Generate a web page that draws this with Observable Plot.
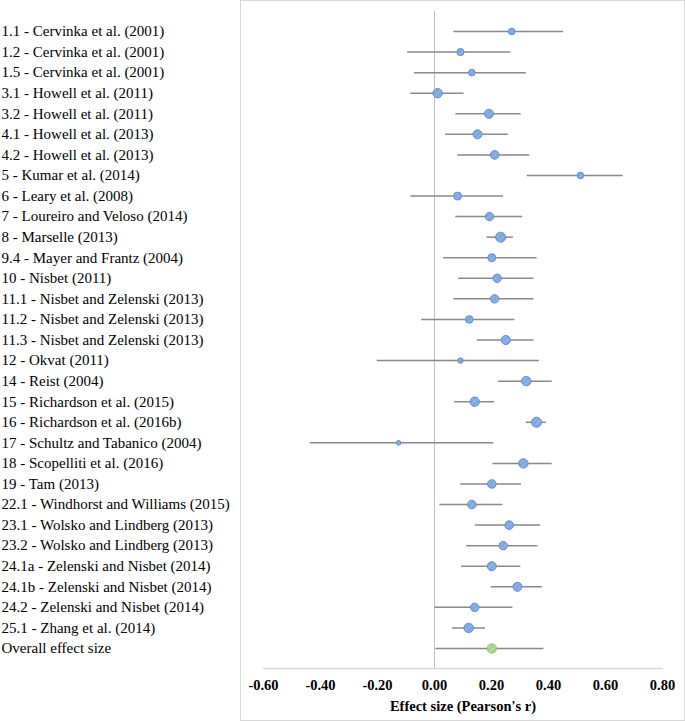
<!DOCTYPE html>
<html>
<head>
<meta charset="utf-8">
<script src="https://cdn.jsdelivr.net/npm/d3@7"></script>
<script src="https://cdn.jsdelivr.net/npm/@observablehq/plot@0.6"></script>
<style>
  html, body { margin: 0; padding: 0; background: #fff; }
  #wrap { position: relative; width: 685px; height: 721px; }
  #box { position: absolute; left: 240px; top: 0px; width: 443px; height: 719px; border: 1px solid #d9d9d9; pointer-events: none; }
  #chart { position: absolute; left: 0; top: 0; }
  #chart svg text { font-family: "Liberation Serif", "Times New Roman", serif; }
</style>
</head>
<body>
<div id="wrap"><div id="box"></div><div id="chart"></div></div>
<script>
const labels = [
  "1.1 - Cervinka et al. (2001)",
  "1.2 - Cervinka et al. (2001)",
  "1.5 - Cervinka et al. (2001)",
  "3.1 - Howell et al. (2011)",
  "3.2 - Howell et al. (2011)",
  "4.1 - Howell et al. (2013)",
  "4.2 - Howell et al. (2013)",
  "5 - Kumar et al. (2014)",
  "6 - Leary et al. (2008)",
  "7 - Loureiro and Veloso (2014)",
  "8 - Marselle (2013)",
  "9.4 - Mayer and Frantz (2004)",
  "10 - Nisbet (2011)",
  "11.1 - Nisbet and Zelenski (2013)",
  "11.2 - Nisbet and Zelenski (2013)",
  "11.3 - Nisbet and Zelenski (2013)",
  "12 - Okvat (2011)",
  "14 - Reist (2004)",
  "15 - Richardson et al. (2015)",
  "16 - Richardson et al. (2016b)",
  "17 - Schultz and Tabanico (2004)",
  "18 - Scopelliti et al. (2016)",
  "19 - Tam (2013)",
  "22.1 - Windhorst and Williams (2015)",
  "23.1 - Wolsko and Lindberg (2013)",
  "23.2 - Wolsko and Lindberg (2013)",
  "24.1a - Zelenski and Nisbet (2014)",
  "24.1b - Zelenski and Nisbet (2014)",
  "24.2 - Zelenski and Nisbet (2014)",
  "25.1 - Zhang et al. (2014)",
  "Overall effect size"
];
const estimates = [0.271, 0.091, 0.131, 0.011, 0.191, 0.151, 0.211, 0.512, 0.081, 0.193, 0.232, 0.201, 0.220, 0.211, 0.122, 0.250, 0.091, 0.322, 0.141, 0.358, -0.126, 0.312, 0.201, 0.131, 0.262, 0.241, 0.201, 0.291, 0.141, 0.120, 0.201];
const lower = [0.068, -0.094, -0.070, -0.083, 0.075, 0.039, 0.082, 0.325, -0.083, 0.075, 0.184, 0.032, 0.085, 0.068, -0.045, 0.150, -0.201, 0.225, 0.070, 0.322, -0.436, 0.205, 0.092, 0.019, 0.143, 0.113, 0.095, 0.199, 0.002, 0.063, 0.005];
const upper = [0.453, 0.268, 0.322, 0.104, 0.304, 0.259, 0.334, 0.662, 0.242, 0.309, 0.277, 0.360, 0.349, 0.349, 0.282, 0.349, 0.368, 0.413, 0.211, 0.393, 0.208, 0.413, 0.305, 0.240, 0.373, 0.363, 0.303, 0.378, 0.275, 0.179, 0.384];
const weights = [3.3, 3.6, 3.3, 4.7, 4.5, 4.5, 4.3, 3.3, 4.0, 4.2, 5.0, 4.0, 4.2, 4.2, 3.8, 4.5, 2.7, 4.7, 4.7, 5.0, 2.3, 4.7, 4.3, 4.3, 4.3, 4.2, 4.5, 4.5, 4.2, 4.7, 4.7];
const overallCI = [0.172, 0.232];
const xTicks = [-0.6, -0.4, -0.2, 0, 0.2, 0.4, 0.6, 0.8];
const xTitle = "Effect size (Pearson's r)";

const rows = labels.map((label, i) => ({
  label, est: estimates[i], lo: lower[i], hi: upper[i], w: weights[i],
  overall: i === labels.length - 1
}));
const overallRow = rows[rows.length - 1];
const ciCaps = overallCI.map(v => ({label: overallRow.label, x: v}));
const caps = rows.flatMap(d => [{label: d.label, x: d.lo}, {label: d.label, x: d.hi}]);

const serif = "Liberation Serif";
const barColor = "#898989";

const chart = Plot.plot({
  width: 685,
  height: 721,
  marginLeft: 263,
  marginRight: 23,
  marginTop: 11,
  marginBottom: 53,
  style: {background: "transparent", color: "#000"},
  x: {domain: [-0.6, 0.8], axis: null},
  y: {type: "point", domain: labels, range: [31, 648], padding: 0, round: false, axis: null},
  r: {type: "identity"},
  marks: [
    Plot.ruleX([0], {stroke: "#bfbfbf", strokeWidth: 1}),
    Plot.frame({anchor: "bottom", stroke: "#d9d9d9", strokeWidth: 1.3}),
    Plot.ruleY(rows, {y: "label", x1: "lo", x2: "hi", stroke: barColor, strokeWidth: 1.5}),
    Plot.ruleX(caps, {x: "x", y: "label", insetTop: -4, insetBottom: -4, stroke: barColor, strokeWidth: 1.5}),
    Plot.ruleX(ciCaps, {x: "x", y: "label", insetTop: -4, insetBottom: -4, stroke: barColor, strokeWidth: 1.5}),
    Plot.dot(rows.filter(d => !d.overall), {x: "est", y: "label", r: "w", fill: "url(#hatchBlue)", stroke: "#5f8fd3", strokeWidth: 1}),
    Plot.dot(rows.filter(d => d.overall), {x: "est", y: "label", r: "w", fill: "url(#hatchGreen)", stroke: "#93c46f", strokeWidth: 1}),
    Plot.text(rows, {y: "label", text: "label", frameAnchor: "left", textAnchor: "start", dx: -262, fontFamily: serif, fontSize: 15, fill: "#000"}),
    Plot.axisX({ticks: xTicks, tickSize: 0, tickPadding: 11, tickFormat: d => d.toFixed(2), fontFamily: serif, fontSize: 14.5, fontWeight: "bold", fill: "#000", label: null}),
    Plot.text([xTitle], {text: d => d, frameAnchor: "bottom", dy: 42, fontFamily: serif, fontSize: 14.5, fontWeight: "bold", fill: "#000"})
  ]
});

const ns = "http://www.w3.org/2000/svg";
const defs = document.createElementNS(ns, "defs");
function hatch(id, bg, line) {
  const p = document.createElementNS(ns, "pattern");
  p.setAttribute("id", id);
  p.setAttribute("patternUnits", "userSpaceOnUse");
  p.setAttribute("width", "4");
  p.setAttribute("height", "4");
  p.setAttribute("patternTransform", "rotate(45)");
  const r = document.createElementNS(ns, "rect");
  r.setAttribute("width", "4"); r.setAttribute("height", "4"); r.setAttribute("fill", bg);
  const l = document.createElementNS(ns, "line");
  l.setAttribute("x1", "0"); l.setAttribute("y1", "0"); l.setAttribute("x2", "0"); l.setAttribute("y2", "4");
  l.setAttribute("stroke", line); l.setAttribute("stroke-width", "1.4");
  p.appendChild(r); p.appendChild(l);
  defs.appendChild(p);
}
hatch("hatchBlue", "#8db0e2", "#6a96d6");
hatch("hatchGreen", "#b5d99a", "#97c472");
chart.insertBefore(defs, chart.firstChild);
document.getElementById("chart").appendChild(chart);
</script>
</body>
</html>
